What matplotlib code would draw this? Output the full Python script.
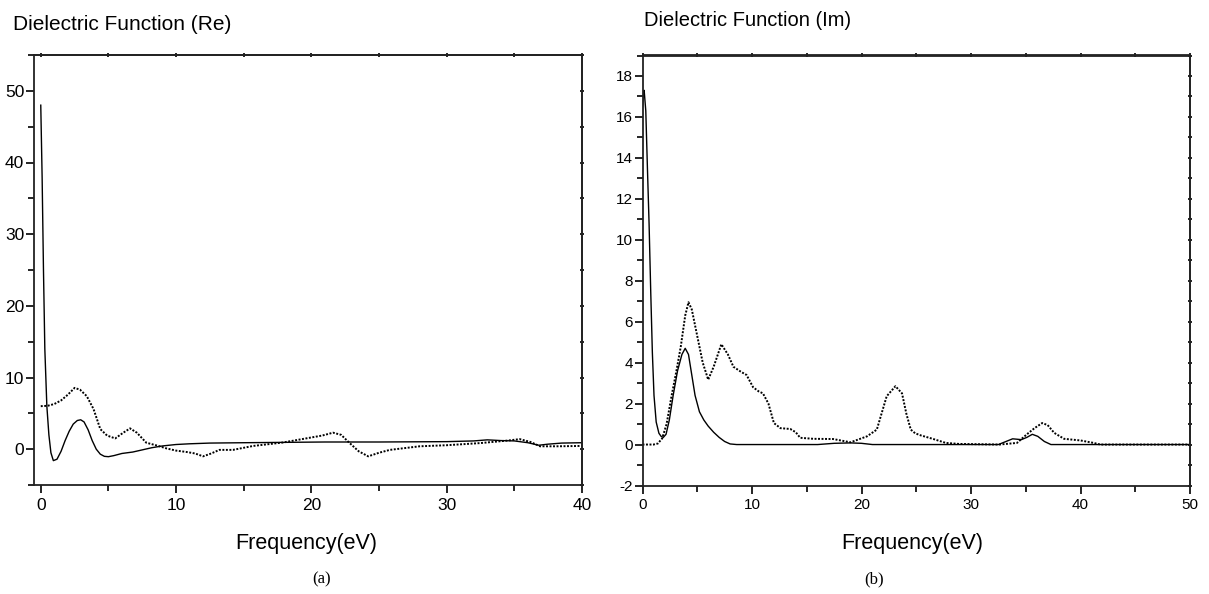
import matplotlib
matplotlib.use("Agg")
import matplotlib.pyplot as plt
from matplotlib.ticker import MultipleLocator

plt.rcParams['font.family'] = ['Liberation Sans', 'DejaVu Sans']
plt.rcParams['axes.unicode_minus'] = False

# ---- Panel (a): real part ----
re_solid_x = [0, 0.1, 0.2, 0.3, 0.45, 0.6, 0.75, 0.93, 1.2, 1.5, 1.8, 2.1, 2.4, 2.7, 2.95, 3.2, 3.5,
              3.8, 4.1, 4.4, 4.7, 5.0, 5.4, 6.0, 6.8, 7.5, 8.2, 9.0, 10.0, 11.0, 12.5, 15, 18, 21,
              25, 30, 32, 33, 34, 35, 36, 36.8, 37.5, 38.5, 40]
re_solid_y = [48, 38, 25, 14, 6, 2, -0.5, -1.6, -1.4, -0.3, 1.2, 2.5, 3.5, 4.0, 4.1, 3.8, 2.7,
              1.2, 0.0, -0.7, -1.0, -1.05, -0.9, -0.6, -0.4, -0.1, 0.2, 0.45, 0.65, 0.75, 0.85,
              0.9, 0.95, 1.0, 1.0, 1.05, 1.15, 1.3, 1.2, 1.15, 0.9, 0.55, 0.7, 0.85, 0.9]

re_dot_x = [0, 0.5, 1.0, 1.5, 2.0, 2.5, 2.9, 3.4, 3.9, 4.4, 4.9, 5.5, 6.1, 6.6, 7.1, 7.8, 8.6,
            9.3, 10.0, 10.8, 11.4, 12.0, 12.6, 13.2, 14.2, 15.7, 17.9, 19.9, 20.8, 21.6, 22.2,
            22.8, 23.5, 24.2, 25.0, 25.8, 28.0, 30.0, 32.5, 34.5, 35.4, 36.2, 36.9, 38.1, 40]
re_dot_y = [6.0, 6.05, 6.3, 6.8, 7.6, 8.55, 8.3, 7.4, 5.6, 2.8, 1.9, 1.5, 2.3, 2.9, 2.3, 0.9, 0.5,
            0.1, -0.2, -0.4, -0.6, -1.0, -0.6, -0.1, -0.1, 0.45, 0.93, 1.6, 1.9, 2.3, 2.0,
            0.9, -0.3, -1.0, -0.5, -0.1, 0.4, 0.55, 0.85, 1.2, 1.4, 1.0, 0.4, 0.4, 0.45]

# ---- Panel (b): imaginary part ----
im_solid_x = [0, 0.08, 0.15, 0.3, 0.45, 0.6, 0.75, 0.9, 1.05, 1.25, 1.5, 1.7, 1.9, 2.15, 2.45,
              2.8, 3.2, 3.6, 3.9, 4.2, 4.5, 4.8, 5.2, 5.6, 6.0, 6.5, 7.0, 7.5, 8.0, 8.6, 16, 17.5,
              19.0, 20.0, 21.0, 32.5, 33.2, 33.8, 34.6, 35.1, 35.6, 36.1, 36.7, 37.3, 50]
im_solid_y = [16.5, 17.1, 17.3, 16.3, 13.5, 10.8, 7.5, 4.5, 2.4, 1.1, 0.55, 0.4, 0.35, 0.5, 1.2,
              2.4, 3.6, 4.4, 4.7, 4.4, 3.4, 2.4, 1.6, 1.2, 0.9, 0.6, 0.35, 0.15, 0.03, 0.0, 0.0,
              0.06, 0.08, 0.06, 0.0, 0.0, 0.15, 0.28, 0.24, 0.35, 0.5, 0.4, 0.15, 0.0, 0.0]

im_dot_x = [0, 1.0, 1.4, 1.8, 2.2, 2.65, 3.1, 3.5, 3.9, 4.2, 4.5, 5.0, 5.5, 6.0, 6.5, 7.2, 7.8,
            8.3, 9.0, 9.5, 10.1, 10.6, 11.0, 11.5, 12.0, 12.6, 13.5, 14.0, 14.4, 15.6, 17.4,
            19.0, 20.5, 21.4, 22.3, 23.1, 23.7, 24.1, 24.5, 24.9, 25.4, 26.5, 27.7, 28.9, 32.6,
            34.2, 35.1, 35.8, 36.5, 37.0, 37.6, 38.5, 40.0, 41.2, 41.8, 50]
im_dot_y = [0, 0.0, 0.05, 0.3, 1.0, 2.36, 3.6, 4.8, 6.3, 6.95, 6.6, 5.3, 4.0, 3.17, 3.8, 4.9, 4.4,
            3.8, 3.55, 3.4, 2.8, 2.6, 2.5, 2.0, 1.05, 0.8, 0.76, 0.6, 0.33, 0.28, 0.27,
            0.11, 0.4, 0.73, 2.36, 2.85, 2.5, 1.5, 0.73, 0.55, 0.45, 0.28, 0.08, 0.03, 0.0,
            0.08, 0.5, 0.8, 1.05, 0.95, 0.57, 0.28, 0.2, 0.08, 0.0, 0.0]

fig = plt.figure(figsize=(12.09, 5.94), dpi=100)
ax1 = fig.add_axes([34/1209, 1-485/594, (582-34)/1209, (485-55)/594])
ax2 = fig.add_axes([642.5/1209, 1-485.5/594, (1190-642.5)/1209, (485.5-55.5)/594])

dot_style = (0, (1.0, 0.8))
for ax, sx, sy, dx, dy in [(ax1, re_solid_x, re_solid_y, re_dot_x, re_dot_y),
                           (ax2, im_solid_x, im_solid_y, im_dot_x, im_dot_y)]:
    ax.plot(sx, sy, color='black', lw=1.0)
    ax.plot(dx, dy, color='black', lw=1.4, linestyle=dot_style)
    for s in ax.spines.values():
        s.set_linewidth(1.3)
        s.set_color('#222222')

ax1.set_xlim(-0.5, 40)
ax1.set_ylim(-5, 55)
ax2.set_xlim(0, 50)
ax2.set_ylim(-2, 19)

for ax, xmaj, ymaj, fs in [(ax1, 10, 10, 12.5), (ax2, 10, 2, 11)]:
    sx = ax.secondary_xaxis('top')
    sy = ax.secondary_yaxis('right')
    for a, mj in [(ax.xaxis, xmaj), (ax.yaxis, ymaj), (sx.xaxis, xmaj), (sy.yaxis, ymaj)]:
        a.set_major_locator(MultipleLocator(mj))
        a.set_minor_locator(MultipleLocator(mj / 2))
    ax.tick_params(axis='both', which='major', direction='out', length=6, width=1.2,
                   labelsize=fs, pad=1)
    ax.tick_params(axis='both', which='minor', direction='out', length=4, width=1.2)
    ax.tick_params(axis='x', pad=3)
    for sec in (sx, sy):
        sec.tick_params(which='both', direction='inout', length=3, width=1.2,
                        labeltop=False, labelright=False)
        for s in sec.spines.values():
            s.set_linewidth(1.3)
            s.set_color('#222222')

fig.text(13/1209, 1-24/594, 'Dielectric Function (Re)', fontsize=15, ha='left', va='center')
fig.text(644/1209, 1-21/594, 'Dielectric Function (Im)', fontsize=14.5, ha='left', va='center')
fig.text(306/1209, 1-543/594, 'Frequency(eV)', fontsize=15.5, ha='center', va='center')
fig.text(912/1209, 1-543/594, 'Frequency(eV)', fontsize=15.5, ha='center', va='center')
fig.text(322/1209, 1-579/594, '(a)', fontsize=12, ha='center', va='center',
         family=['Liberation Serif', 'DejaVu Serif'])
fig.text(874/1209, 1-579/594, '(b)', fontsize=12, ha='center', va='center',
         family=['Liberation Serif', 'DejaVu Serif'])

fig.savefig('out.png', dpi=100)
